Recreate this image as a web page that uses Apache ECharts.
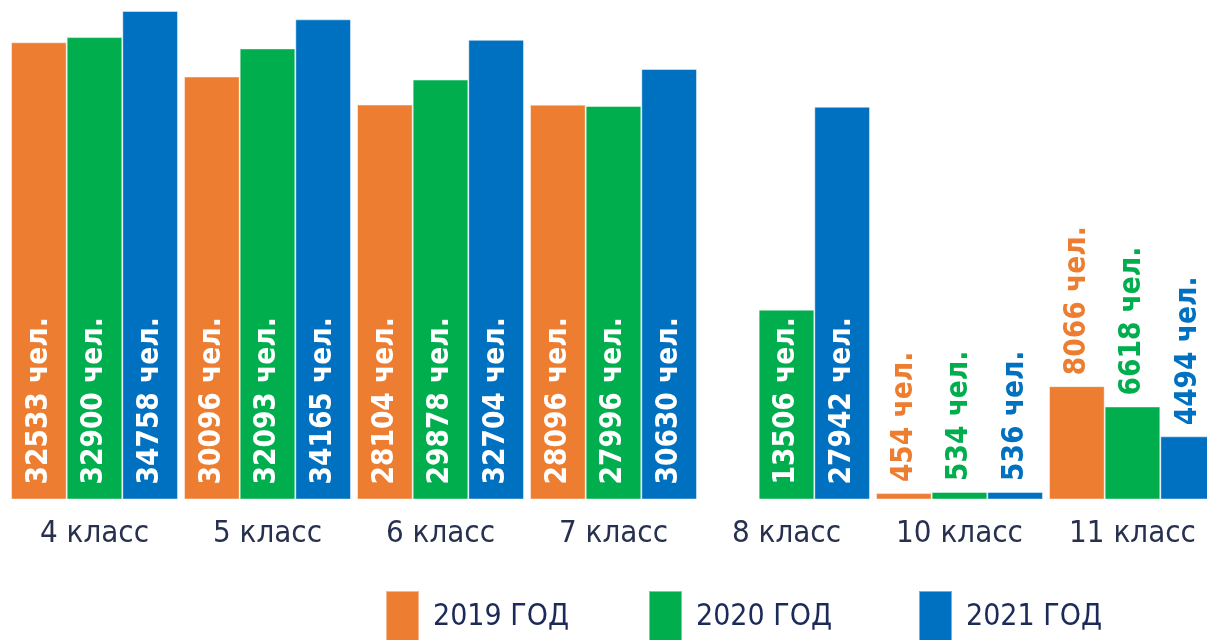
<!DOCTYPE html>
<html>
<head>
<meta charset="utf-8">
<script src="https://cdn.jsdelivr.net/npm/echarts@6/dist/echarts.min.js"></script>
<style>
html,body{margin:0;padding:0;background:#ffffff;}
#chart{width:1207px;height:640px;}
</style>
</head>
<body>
<div id="chart"></div>
<script>
const categories = ['4 класс', '5 класс', '6 класс', '7 класс', '8 класс', '10 класс', '11 класс'];
const seriesNames = ['2019 ГОД', '2020 ГОД', '2021 ГОД'];
const values2019 = [32533, 30096, 28104, 28096, null, 454, 8066];
const values2020 = [32900, 32093, 29878, 27996, 13506, 534, 6618];
const values2021 = [34758, 34165, 32704, 30630, 27942, 536, 4494];
const unitText = ' чел.';

const colors = ['#ED7D31', '#00AE4D', '#0070C0'];
const allValues = [values2019, values2020, values2021];
const labelFont = 'DejaVu Sans Condensed, DejaVu Sans, sans-serif';
const textFont = 'DejaVu Sans Condensed, DejaVu Sans, sans-serif';

function buildData(vals, color) {
  return vals.map(function (v) {
    if (v === null) return null;
    const inside = v > 10000;
    return {
      value: v,
      label: inside ? {
        position: 'insideBottom',
        distance: 15,
        color: '#ffffff'
      } : {
        position: 'top',
        distance: 11,
        color: color
      }
    };
  });
}

const series = seriesNames.map(function (name, i) {
  return {
    name: name,
    type: 'bar',
    barGap: '0%',
    barCategoryGap: '3.5%',
    data: buildData(allValues[i], colors[i]),
    itemStyle: { color: colors[i], borderColor: 'rgba(255,255,255,0.45)', borderWidth: 1 },
    label: {
      show: true,
      rotate: 90,
      align: 'left',
      verticalAlign: 'middle',
      fontFamily: labelFont,
      fontWeight: 'bold',
      fontSize: 29.5,
      formatter: function (p) { return p.value + unitText; }
    }
  };
});

const legendLefts = [385, 648, 918];
const legends = seriesNames.map(function (name, i) {
  return {
    data: [name],
    left: legendLefts[i],
    top: 590,
    padding: 0,
    orient: 'horizontal',
    itemWidth: 33,
    itemHeight: 52,
    itemGap: 0,
    icon: 'rect',
    selectedMode: false,
    textStyle: { fontFamily: textFont, fontSize: 30, color: '#1b2a58', padding: [0, 0, 0, 9] }
  };
});

const chart = echarts.init(document.getElementById('chart'));
chart.setOption({
  backgroundColor: '#ffffff',
  animation: false,
  color: colors,
  grid: { left: 8, width: 1211, top: 11, bottom: 140.5, containLabel: false, outerBoundsMode: 'none' },
  legend: legends,
  xAxis: {
    type: 'category',
    data: categories,
    axisLine: { show: false },
    axisTick: { show: false },
    axisLabel: {
      interval: 0,
      margin: 19,
      fontFamily: textFont,
      fontSize: 31,
      color: '#27304f'
    }
  },
  yAxis: {
    type: 'value',
    min: 0,
    max: 34758,
    show: false,
    splitLine: { show: false }
  },
  series: series
});
</script>
</body>
</html>
